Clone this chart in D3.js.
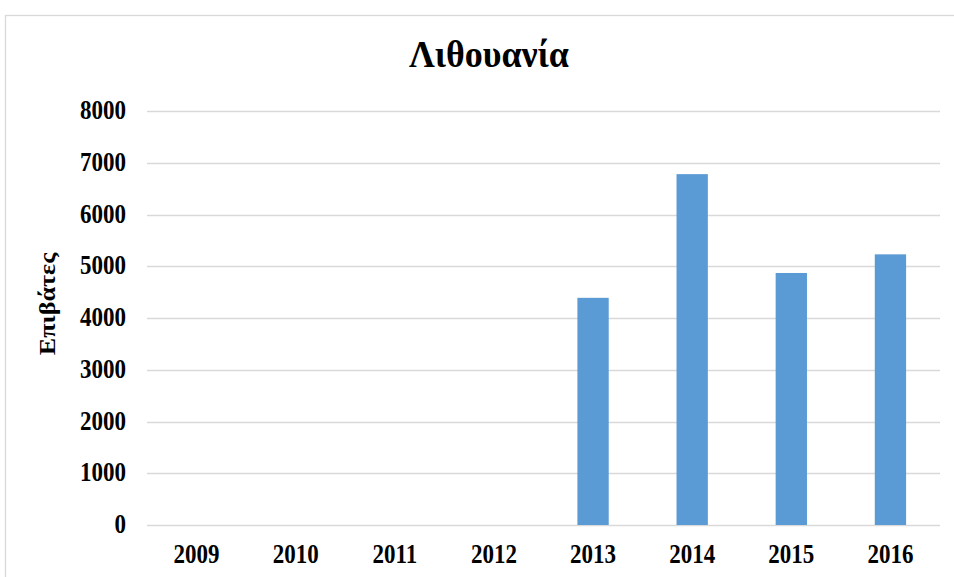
<!DOCTYPE html>
<html>
<head>
<meta charset="utf-8">
<script src="https://cdn.jsdelivr.net/npm/d3@7"></script>
<style>
html,body{margin:0;padding:0;background:#fff;overflow:hidden;}
svg{display:block;}
text{font-family:"Liberation Serif","Times New Roman",serif;font-weight:bold;fill:#000;}
</style>
</head>
<body>
<svg id="chart" width="954" height="577"></svg>
<script>
const title = "Λιθουανία";
const yLabel = "Επιβάτες";
const years = ["2009","2010","2011","2012","2013","2014","2015","2016"];
const passengers = [null, null, null, null, 4390, 6780, 4870, 5230];
const yTicks = [0,1000,2000,3000,4000,5000,6000,7000,8000];

const svg = d3.select("#chart");
const plot = {left:147, right:940, top:111, bottom:525};
const sy = 1.16;

// outer chart border
svg.append("rect").attr("x",5.5).attr("y",15.5).attr("width",975).attr("height",600)
  .attr("fill","#fff").attr("stroke","#d9d9d9").attr("stroke-width",1.3);

const x = d3.scaleBand().domain(years).range([plot.left, plot.right]).paddingInner(0).paddingOuter(0);
const y = d3.scaleLinear().domain([0,8000]).range([plot.bottom, plot.top]);

// gridlines
svg.append("g").selectAll("line").data(yTicks).join("line")
  .attr("x1",plot.left).attr("x2",plot.right)
  .attr("y1",d=>Math.round(y(d))+0.5).attr("y2",d=>Math.round(y(d))+0.5)
  .attr("stroke","#d9d9d9").attr("stroke-width",1.3);

// bars
const barW = x.bandwidth()*0.316;
const data = years.map((yr,i)=>({yr, v:passengers[i]})).filter(d=>d.v!=null);
svg.append("g").selectAll("rect").data(data).join("rect")
  .attr("x",d=>x(d.yr)+x.bandwidth()/2-barW/2)
  .attr("width",barW)
  .attr("y",d=>y(d.v))
  .attr("height",d=>y(0)-y(d.v))
  .attr("fill","#5b9bd5");

// y tick labels
svg.append("g").selectAll("text").data(yTicks).join("text")
  .attr("transform",d=>`translate(126,${y(d)+8}) scale(1,${sy})`)
  .attr("text-anchor","end")
  .attr("font-size",23)
  .text(d=>d);

// x tick labels
svg.append("g").selectAll("text").data(years).join("text")
  .attr("transform",d=>`translate(${x(d)+x.bandwidth()/2},563) scale(1,${sy})`)
  .attr("text-anchor","middle")
  .attr("font-size",23)
  .text(d=>d);

// y axis label
svg.append("text")
  .attr("transform",`translate(55,304) rotate(-90) scale(${sy},1)`)
  .attr("text-anchor","middle")
  .attr("font-size",22.5)
  .text(yLabel);

// title
svg.append("text")
  .attr("transform",`translate(489,67) scale(1,1.05)`)
  .attr("text-anchor","middle")
  .attr("font-size",36)
  .text(title);
</script>
</body>
</html>
